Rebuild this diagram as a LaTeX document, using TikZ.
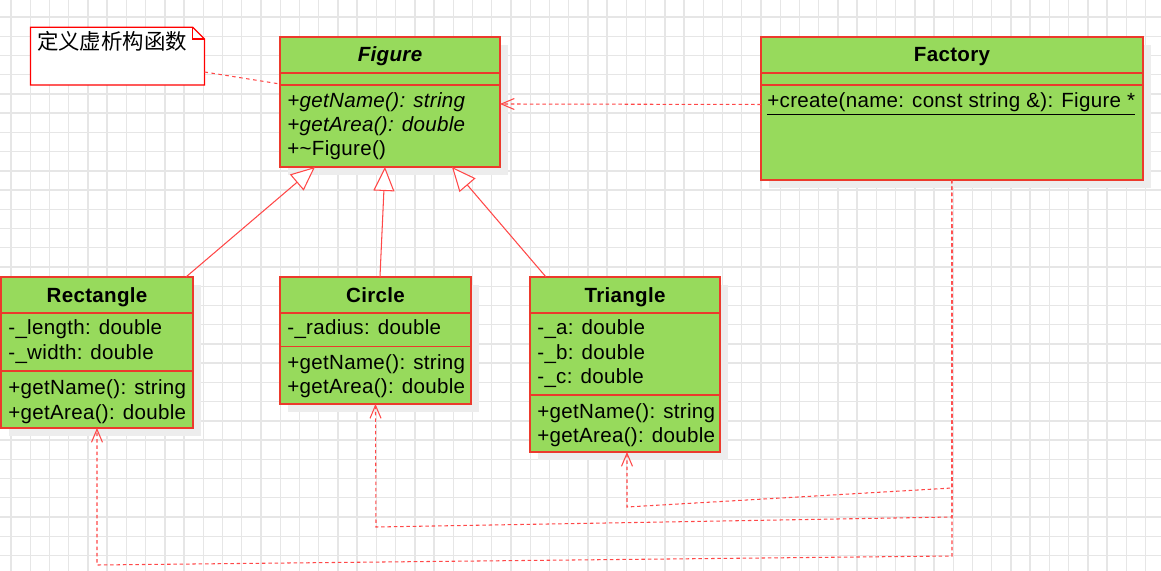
\documentclass[tikz,border=0pt]{standalone}
\usepackage{fontspec}
\setmainfont{Liberation Sans}[LetterSpace=1.5]
\newfontfamily\cjkfont{Noto Sans CJK SC}
\usetikzlibrary{arrows.meta,shadows}
\definecolor{boxgreen}{RGB}{151,218,92}
\definecolor{boxred}{RGB}{236,58,44}
\definecolor{edgered}{RGB}{255,72,72}
\definecolor{gridgray}{RGB}{230,230,230}
\tikzset{
  umlbox/.style={draw=boxred, fill=boxgreen, line width=0.85pt, inner sep=0pt, outer sep=0pt,
    anchor=north west, drop shadow={shadow xshift=0.16cm, shadow yshift=-0.16cm, fill=black!7, opacity=1}},
  member/.style={anchor=base west, inner sep=0pt, font=\fontsize{11.7}{14}\selectfont},
  classname/.style={anchor=base, inner sep=0pt, font=\fontsize{11.7}{14}\selectfont\bfseries},
  divider/.style={draw=boxred, line width=0.85pt},
  inherit/.style={draw=edgered, line width=0.6pt, -{Triangle[fill=white, length=0.48cm, width=0.42cm]}},
  depend/.style={draw=edgered, line width=0.6pt, dash pattern=on 2pt off 1.6pt,
    -{Straight Barb[length=0.26cm, width=0.22cm]}},
}
\begin{document}
\begin{tikzpicture}[x=0.02cm, y=-0.02cm]
  \fill[white] (0,0) rectangle (1161,571);
  \useasboundingbox (0,0) rectangle (1161,571);
  \def\gs{19.23}   % grid step
  \foreach \i in {0,...,59} { \draw[gridgray, line width=0.8pt] (11+\i*\gs,0) -- (11+\i*\gs,571); }
  \foreach \j in {0,...,28} { \draw[gridgray, line width=0.8pt] (0,17+\j*\gs) -- (1161,17+\j*\gs); }

  % note
  \node (note) [anchor=north west, minimum width=3.48cm, minimum height=1.154cm, inner sep=0pt, outer sep=0pt] at (30.5,27.3) {};
  \draw[red, line width=0.75pt, fill=white] (note.north west) -- ([xshift=-0.234cm]note.north east)
    -- ([yshift=-0.234cm]note.north east) -- (note.south east) -- (note.south west) -- cycle;
  \draw[red, line width=0.75pt] ([xshift=-0.234cm]note.north east) -- ++(0,11.7) -- ++(11.7,0);
  \node (notetext) [anchor=base west, inner sep=0pt, font=\cjkfont\fontsize{12.2}{14}\selectfont] at (36.7,50) {定义虚析构函数};

  % Figure
  \node (figure) [umlbox, minimum width=4.4cm, minimum height=2.6cm] at (280,37) {};
  \foreach \y in {73,85} { \draw[divider] (280,\y) -- (500,\y); }
  \node (figtitle) [classname] at (390,62) {\itshape Figure};
  \foreach \y/\t [count=\k] in {107.5/{+getName(): string}, 131.5/{+getArea(): double}} {
    \node (figm\k) [member] at (287,\y) {\itshape\t}; }
  \node (figm3) [member] at (287,155.5) {+\textasciitilde Figure()};

  % Factory
  \node (factory) [umlbox, minimum width=7.64cm, minimum height=2.86cm] at (761,37) {};
  \foreach \y in {73,85} { \draw[divider] (761,\y) -- (1143,\y); }
  \node (factitle) [classname] at (952,62) {Factory};
  \node (factm1) [member] at (767,107.5) {\underline{+create(name: const string \&): Figure *}};

  % Rectangle
  \node (rect) [umlbox, minimum width=3.84cm, minimum height=3.02cm] at (1,277) {};
  \foreach \y in {313,371} { \draw[divider] (1,\y) -- (193,\y); }
  \node (recttitle) [classname] at (97,302) {Rectangle};
  \foreach \y/\t [count=\k] in {335/{-\_length: double}, 359/{-\_width: double},
      395/{+getName(): string}, 419/{+getArea(): double}} {
    \node (rectm\k) [member] at (8,\y) {\t}; }

  % Circle
  \node (circ) [umlbox, minimum width=3.82cm, minimum height=2.54cm] at (280,277) {};
  \foreach \y in {313,346.5} { \draw[divider] (280,\y) -- (471,\y); }
  \node (circtitle) [classname] at (375.5,302) {Circle};
  \foreach \y/\t [count=\k] in {335/{-\_radius: double}, 369.5/{+getName(): string}, 393.5/{+getArea(): double}} {
    \node (circm\k) [member] at (287,\y) {\t}; }

  % Triangle
  \node (tri) [umlbox, minimum width=3.8cm, minimum height=3.5cm] at (530,277) {};
  \foreach \y in {313,395} { \draw[divider] (530,\y) -- (720,\y); }
  \node (trititle) [classname] at (625,302) {Triangle};
  \foreach \y/\t [count=\k] in {335/{-\_a: double}, 359/{-\_b: double}, 383/{-\_c: double},
      418.5/{+getName(): string}, 442/{+getArea(): double}} {
    \node (trim\k) [member] at (537,\y) {\t}; }

  % edges
  \draw[edgered, line width=0.6pt, dash pattern=on 2pt off 2pt] ([yshift=0.26cm]note.south east) -- ([yshift=0.36cm]figure.west);
  \draw[depend] ([yshift=0.08cm]factory.west) -- ([yshift=-0.04cm]figure.east);
  \draw[inherit] ([xshift=-0.14cm]rect.north east) -- ([xshift=0.7cm]figure.south west);
  \draw[inherit] ([xshift=0.09cm]circ.north) -- ([xshift=-0.1cm]figure.south);
  \draw[inherit] ([xshift=0.32cm]tri.north west) -- ([xshift=-0.96cm]figure.south east);
  \draw[depend] (factory.south) -- (952,488) -- (627,507) -- ([xshift=0.04cm]tri.south);
  \draw[depend] (factory.south) -- (952,517) -- (376,527) -- (circ.south);
  \draw[depend] (factory.south) -- (952,556) -- (97,565) -- (rect.south);
\end{tikzpicture}
\end{document}
